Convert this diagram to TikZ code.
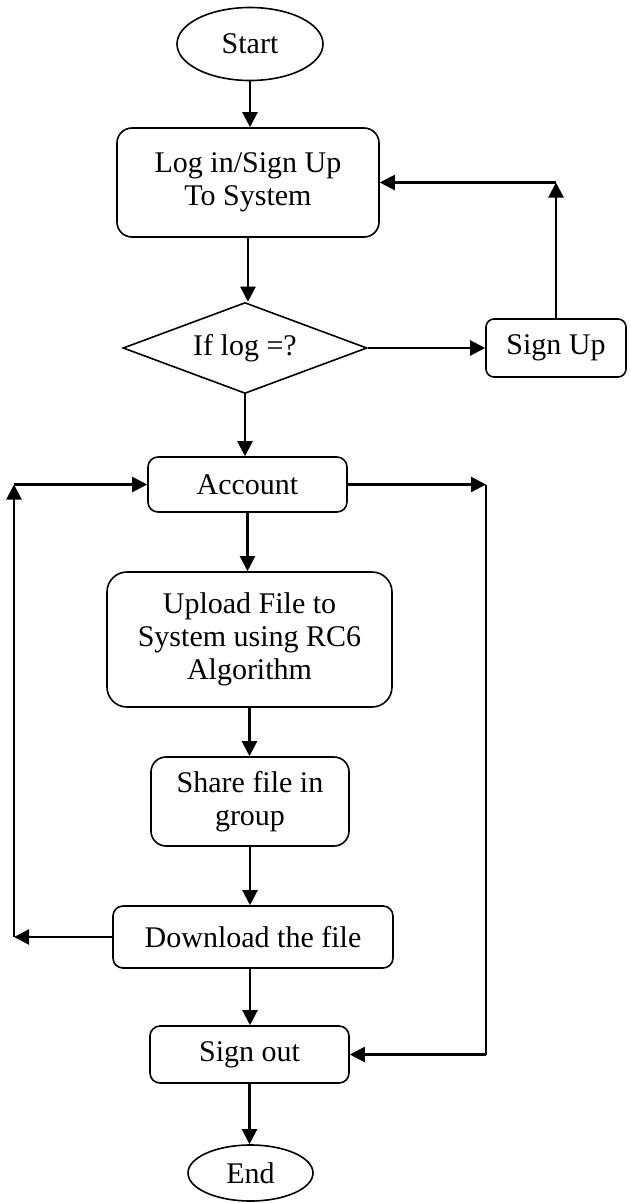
\documentclass[tikz,border=0pt]{standalone}
\usepackage{fontspec}
\setmainfont{Liberation Serif}
\usepackage{tikz}
\usetikzlibrary{shapes.geometric, arrows.meta}

\begin{document}
\begin{tikzpicture}[x=1pt, y=-1pt, >={Triangle[length=15pt,width=15pt]},
    font=\fontsize{30}{33}\selectfont,
    term/.style={draw, ellipse, line width=1.6pt, inner sep=0pt},
    procbox/.style={draw, rounded corners=#1, line width=1.6pt, align=center, inner sep=0pt},
    decide/.style={draw, diamond, shape aspect=2.68, line width=1.6pt, inner sep=0pt},
    flow/.style={->, line width=2.2pt}]
      \useasboundingbox (0,0) rectangle (631,1203);
      % Main column
      \node[term, minimum width=146pt, minimum height=73pt] (start) at (250,44) {Start};
      \node[procbox=15pt, minimum width=262pt, minimum height=109pt] (login) at (248,182.5) {Log in/Sign Up\\To System};
      \node[decide, minimum width=244pt, minimum height=91pt] (cond) at (245,348) {If log =?};
      \node[procbox=8pt, minimum width=140pt, minimum height=58pt] (signup) at (556,348) {Sign Up};
      \node[procbox=10pt, minimum width=199pt, minimum height=55pt] (account) at (247.5,484.5) {Account};
      \node[procbox=20pt, minimum width=285pt, minimum height=135pt] (upload) at (249.5,639.5) {Upload File to\\System using RC6\\Algorithm};
      \node[procbox=15pt, minimum width=198pt, minimum height=89pt] (share) at (250,801.5) {Share file in\\group};
      \node[procbox=10pt, minimum width=280pt, minimum height=62pt] (download) at (253,937) {Download the file};
      \node[procbox=10pt, minimum width=199pt, minimum height=57pt] (signout) at (249.5,1054.5) {Sign out};
      \node[term, minimum width=125pt, minimum height=56pt] (end) at (250.5,1173) {End};
      % Corners of the loops
      \coordinate (upcorner) at (signup.north |- login.east);
      \coordinate (rcorner) at (486,484.5);
      \coordinate (lcorner) at (14,937);
      \coordinate (ltop) at (14,484.5);
      % Straight flow
      \draw[flow] (start.south) -- (start.south |- login.north);
      \draw[flow] (login.south) -- (login.south |- cond.north);
      \draw[flow] (cond.east) -- (signup.west);
      \draw[flow] (cond.south) -- (cond.south |- account.north);
      \draw[flow] (account.south) -- (account.south |- upload.north);
      \draw[flow] (upload.south) -- (upload.south |- share.north);
      \draw[flow] (share.south) -- (share.south |- download.north);
      \draw[flow] (share.south |- download.south) -- (share.south |- signout.north);
      \draw[flow] (signout.south) -- (signout.south |- end.north);
      % Sign up loop
      \draw[flow] (signup.north) -- (upcorner);
      \draw[flow] (upcorner) -- (login.east);
      % Skip to sign out
      \draw[flow] (account.east) -- (rcorner);
      \draw[line width=2.2pt] (rcorner) -- (rcorner |- signout.east);
      \draw[flow] (rcorner |- signout.east) -- (signout.east);
      % Back to account
      \draw[flow] (download.west) -- (lcorner);
      \draw[flow] (lcorner) -- (ltop);
      \draw[flow] (ltop) -- (account.west);
    \end{tikzpicture}
\end{document}
